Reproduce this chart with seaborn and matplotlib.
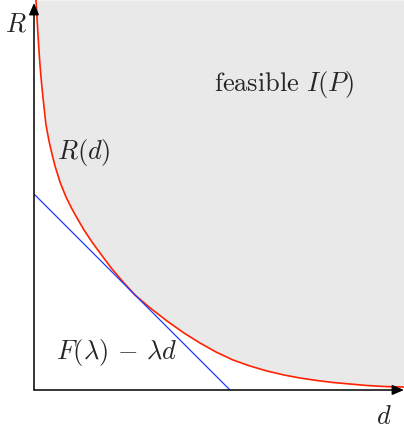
import matplotlib
matplotlib.use("Agg")
import matplotlib.pyplot as plt
import seaborn as sns
import pandas as pd

# Curva R(d) (unidades: 100 px)
d_vals = [0.02, 0.03, 0.04, 0.05, 0.06, 0.07, 0.08, 0.10, 0.12, 0.15, 0.18, 0.21,
          0.26, 0.32, 0.38, 0.43, 0.50, 0.58, 0.66, 0.78, 0.90, 1.01, 1.15, 1.33,
          1.50, 1.66, 1.82, 1.99, 2.16, 2.33, 2.50, 2.66, 2.83, 2.99, 3.16, 3.33,
          3.50, 3.70]
r_vals = [3.90, 3.72, 3.55, 3.39, 3.25, 3.13, 3.02, 2.83, 2.65, 2.49, 2.36, 2.24,
          2.08, 1.93, 1.81, 1.72, 1.60, 1.48, 1.37, 1.21, 1.07, 0.95, 0.83, 0.69,
          0.57, 0.47, 0.38, 0.30, 0.24, 0.19, 0.15, 0.12, 0.095, 0.075, 0.06, 0.045,
          0.035, 0.03]

# Reta tangente F(lambda) - lambda d
line_d = [0.0, 1.96]
line_r = [1.96, 0.0]

curve = pd.DataFrame({"d": d_vals, "R": r_vals})
tangent = pd.DataFrame({"d": line_d, "R": line_r})

sns.set_style("white")
plt.rcParams["mathtext.fontset"] = "cm"

W, H = 404, 429
fig = plt.figure(figsize=(W / 100, H / 100), dpi=100)
ax = fig.add_axes([34 / W, 39 / H, 370 / W, 390 / H])
ax.set_xlim(0, 3.70)
ax.set_ylim(0, 3.90)

# Regiao viavel
ax.fill_between(curve["d"], curve["R"], 3.90, color="#e9e9e9", lw=0, zorder=1)

sns.lineplot(data=curve, x="d", y="R", sort=False, color="#ff2200", lw=1.2, ax=ax, zorder=3)
sns.lineplot(data=tangent, x="d", y="R", sort=False, color="#1f3cff", lw=0.9, ax=ax, zorder=3)

# Eixos com setas
arrow = dict(arrowstyle="-|>,head_length=0.7,head_width=0.3", lw=1.1, color="black",
             shrinkA=0, shrinkB=0)
ax.annotate("", xy=(0, 3.87), xytext=(0, 0), arrowprops=arrow, annotation_clip=False, zorder=4)
ax.annotate("", xy=(3.70, 0), xytext=(0, 0), arrowprops=arrow, annotation_clip=False, zorder=4)

fs = 19
ax.text(-0.18, 3.65, r"$R$", fontsize=fs, ha="center", va="center")
ax.text(3.50, -0.27, r"$d$", fontsize=fs, ha="center", va="center")
ax.text(0.50, 2.37, r"$R(d)$", fontsize=fs, ha="center", va="center")
ax.text(0.83, 0.38, r"$F(\lambda)\,-\,\lambda d$", fontsize=fs, ha="center", va="center")
ax.text(2.50, 3.05, r"$\mathrm{feasible}\ I(P)$", fontsize=fs, ha="center", va="center")

ax.set_xlabel("")
ax.set_ylabel("")
ax.set_xticks([])
ax.set_yticks([])
for spine in ax.spines.values():
    spine.set_visible(False)
ax.patch.set_alpha(0)

plt.savefig("out.png", dpi=100)
